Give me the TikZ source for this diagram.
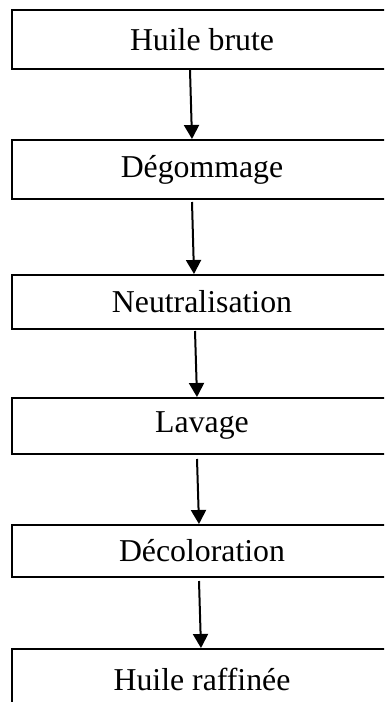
\documentclass[tikz,border=0pt]{standalone}
\usepackage{fontspec}
\setmainfont{Liberation Serif}
\usetikzlibrary{arrows.meta}
\tikzset{
  stepbox/.style={draw=black, line width=2pt, rectangle, minimum width=380pt, inner sep=0pt,
    font=\fontsize{31.8}{36}\selectfont},
  flow/.style={line width=2pt, -{Triangle[length=14pt,width=15pt]}}
}
\begin{document}
\begin{tikzpicture}[x=1pt,y=-1pt]
\clip (0,0) rectangle (384,702);
\fill[white] (0,0) rectangle (384,702);
\node[stepbox, minimum height=59pt] (a) at (202,39.5) {Huile brute};
\node[stepbox, minimum height=59pt] (b) at (202,169.5) {Dégommage};
\node[stepbox, minimum height=54pt] (c) at (202,302) {Neutralisation};
\node[stepbox, minimum height=56pt] (d) at (202,426) {Lavage};
\node[stepbox, minimum height=52pt] (e) at (202,551) {Décoloration};
\node[stepbox, minimum height=60pt] (f) at (202,679) {Huile raffinée};
\draw[flow] ([xshift=-12pt]a.south) -- ([xshift=-10pt]b.north);
\draw[flow] ([xshift=-10pt,yshift=-2pt]b.south) -- ([xshift=-8pt]c.north);
\draw[flow] ([xshift=-7pt,yshift=-1pt]c.south) -- ([xshift=-5pt]d.north);
\draw[flow] ([xshift=-5pt,yshift=-4pt]d.south) -- ([xshift=-3pt]e.north);
\draw[flow] ([xshift=-3pt,yshift=-3pt]e.south) -- ([xshift=-1pt]f.north);
\end{tikzpicture}
\end{document}
